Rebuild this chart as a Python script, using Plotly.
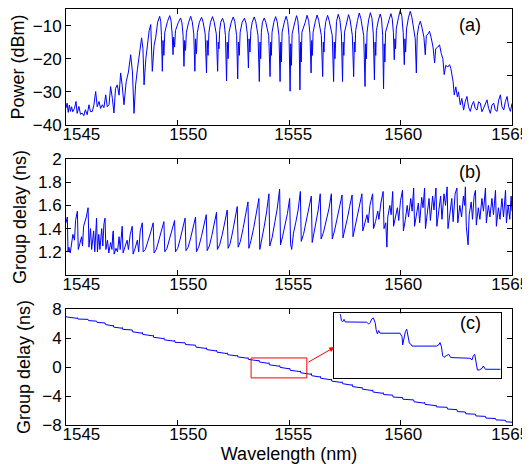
import plotly.graph_objects as go

# ---- (a) optical power spectrum ----
wl_a = [
    1545.00, 1545.05, 1545.10, 1545.15, 1545.20, 1545.25, 1545.30, 1545.38,
    1545.45, 1545.50, 1545.58, 1545.65, 1545.72, 1545.80, 1545.87, 1545.95,
    1546.03, 1546.10, 1546.18, 1546.25, 1546.33, 1546.40, 1546.48, 1546.55,
    1546.63, 1546.70, 1546.78, 1546.85, 1546.93, 1547.00, 1547.08, 1547.15,
    1547.22, 1547.30, 1547.38, 1547.45, 1547.52, 1547.60, 1547.70, 1547.80,
    1547.90, 1547.98, 1548.05, 1548.12, 1548.20, 1548.30, 1548.39, 1548.45,
    1548.50, 1548.58, 1548.65, 1548.73, 1548.80, 1548.87, 1548.95, 1549.02,
    1549.11,
    1549.20, 1549.25, 1549.28, 1549.32, 1549.35, 1549.39, 1549.43, 1549.55,
    1549.65, 1549.71, 1549.76, 1549.80, 1549.83, 1549.87, 1549.91, 1550.04,
    1550.14, 1550.20, 1550.25, 1550.29, 1550.32, 1550.36, 1550.40, 1550.50,
    1550.59, 1550.66, 1550.73, 1550.78, 1550.81, 1550.85, 1550.89, 1550.98,
    1551.08, 1551.15, 1551.24, 1551.30, 1551.33, 1551.37, 1551.41, 1551.48,
    1551.57, 1551.64, 1551.74, 1551.80, 1551.83, 1551.86, 1551.89, 1551.94,
    1552.02, 1552.09, 1552.15, 1552.20, 1552.23, 1552.27, 1552.31, 1552.41,
    1552.50, 1552.57, 1552.65, 1552.70, 1552.73, 1552.77, 1552.81, 1552.90,
    1553.00, 1553.07, 1553.13, 1553.18, 1553.21, 1553.25, 1553.29, 1553.35,
    1553.44, 1553.51, 1553.61, 1553.67, 1553.70, 1553.73, 1553.76, 1553.81,
    1553.89, 1553.96, 1554.09, 1554.15, 1554.18, 1554.21, 1554.24, 1554.32,
    1554.40, 1554.47, 1554.55, 1554.60, 1554.63, 1554.66, 1554.69, 1554.79,
    1554.87, 1554.94, 1555.00, 1555.05, 1555.08, 1555.11, 1555.14, 1555.26,
    1555.34, 1555.40, 1555.45, 1555.49, 1555.52, 1555.55, 1555.58, 1555.73,
    1555.81, 1555.88, 1555.94, 1555.99, 1556.02, 1556.05, 1556.08, 1556.18,
    1556.26, 1556.33, 1556.45, 1556.51, 1556.54, 1556.57, 1556.60, 1556.65,
    1556.73, 1556.80, 1556.94, 1557.00, 1557.03, 1557.06, 1557.09, 1557.13,
    1557.21, 1557.28, 1557.35, 1557.40, 1557.43, 1557.46, 1557.49, 1557.59,
    1557.67, 1557.74, 1557.84, 1557.90, 1557.93, 1557.96, 1557.99, 1558.07,
    1558.15, 1558.22, 1558.35, 1558.41, 1558.44, 1558.47, 1558.50, 1558.57,
    1558.65, 1558.72, 1558.78, 1558.83, 1558.86, 1558.89, 1558.92, 1559.01,
    1559.09, 1559.15, 1559.20, 1559.24, 1559.27, 1559.30, 1559.33, 1559.49,
    1559.57, 1559.63, 1559.68, 1559.72, 1559.75, 1559.78, 1559.81, 1559.91,
    1559.99, 1560.06, 1560.12, 1560.17, 1560.20, 1560.23, 1560.27, 1560.36,
    1560.44, 1560.51, 1560.60, 1560.66, 1560.71, 1560.75, 1560.82, 1560.89,
    1560.96, 1561.05, 1561.11, 1561.16, 1561.24, 1561.30, 1561.37, 1561.46,
    1561.53, 1561.58, 1561.67, 1561.75, 1561.83, 1561.90, 1561.96, 1562.03,
    1562.12, 1562.20, 1562.26, 1562.31, 1562.36, 1562.41, 1562.48, 1562.55,
    1562.60, 1562.68, 1562.75, 1562.83, 1562.90, 1562.98, 1563.05, 1563.13,
    1563.20, 1563.28, 1563.35, 1563.43, 1563.50, 1563.58, 1563.65, 1563.73,
    1563.80, 1563.88, 1563.95, 1564.03, 1564.10, 1564.18, 1564.25, 1564.33,
    1564.40, 1564.48, 1564.55, 1564.63, 1564.70, 1564.78, 1564.85, 1564.93,
    1565.00,
]
power_a = [
    -34.9, -33.4, -36.2, -34.0, -35.9, -34.5, -36.0, -35.0,
    -32.9, -36.5, -34.4, -36.8, -36.4, -37.2, -35.4, -36.9,
    -33.9, -36.0, -35.9, -34.0, -29.9, -34.5, -32.9, -35.0,
    -33.9, -34.8, -30.9, -34.5, -33.9, -28.4, -32.0, -36.4,
    -29.0, -27.9, -31.0, -24.3, -28.0, -33.9, -26.9, -24.0,
    -18.8, -24.0, -36.5, -28.0, -23.3, -18.0, -13.7, -17.0,
    -27.9, -20.0, -15.8, -11.5, -9.7, -23.8, -16.0, -13.7,
    -9.0,
    -7.2, -8.8, -13.0, -23.8, -14.5, -19.0, -12.0, -8.8,
    -7.0, -8.5, -12.5, -18.8, -13.5, -16.5, -11.5, -9.0,
    -7.7, -9.2, -13.0, -22.3, -14.5, -17.5, -12.0, -9.0,
    -7.2, -8.8, -12.5, -23.8, -14.0, -18.5, -12.0, -9.0,
    -7.5, -9.0, -12.5, -24.3, -14.5, -19.0, -12.0, -9.0,
    -7.3, -8.8, -12.5, -23.8, -15.0, -17.0, -11.5, -9.0,
    -7.8, -9.2, -13.0, -26.7, -15.0, -20.0, -12.0, -9.0,
    -7.4, -8.8, -13.0, -26.1, -15.0, -19.0, -12.0, -9.0,
    -7.8, -9.2, -12.5, -22.8, -14.0, -18.0, -11.5, -9.0,
    -7.4, -8.8, -13.0, -26.9, -15.0, -20.0, -12.0, -9.0,
    -7.7, -9.0, -13.0, -25.4, -15.0, -19.0, -12.0, -9.0,
    -7.3, -8.8, -13.0, -26.9, -15.0, -21.0, -12.0, -9.0,
    -7.2, -8.8, -13.0, -29.8, -15.5, -22.0, -12.5, -9.0,
    -7.0, -8.6, -13.0, -29.4, -15.0, -21.0, -12.0, -9.0,
    -6.9, -8.5, -12.5, -24.3, -14.5, -19.0, -12.0, -8.8,
    -6.8, -8.4, -13.0, -25.4, -15.0, -18.0, -11.5, -8.8,
    -6.9, -8.5, -13.0, -26.9, -15.0, -20.0, -11.5, -8.8,
    -6.6, -8.2, -12.5, -26.9, -15.0, -19.0, -12.0, -8.6,
    -6.7, -8.3, -13.0, -25.4, -15.0, -18.0, -11.5, -8.5,
    -6.2, -7.8, -13.0, -28.4, -15.5, -20.0, -12.0, -8.3,
    -6.1, -7.8, -12.5, -26.4, -15.0, -19.0, -11.5, -8.3,
    -6.5, -8.0, -13.0, -29.1, -15.5, -21.0, -12.0, -8.2,
    -6.4, -8.0, -12.0, -20.3, -14.0, -17.0, -11.0, -7.5,
    -5.4, -7.2, -12.0, -21.8, -14.0, -18.0, -11.0, -7.5,
    -5.7, -7.5, -11.5, -14.0, -24.3, -13.0, -10.0, -8.7,
    -10.5, -13.5, -18.8, -13.0, -12.5, -11.7, -13.5, -16.5,
    -21.3, -17.0, -16.5, -15.8, -18.5, -20.0, -24.8, -22.0,
    -22.5, -21.8, -23.0, -25.2, -27.0, -30.9, -28.5, -31.5,
    -30.0, -33.9, -32.0, -35.5, -33.0, -31.4, -34.5, -35.9,
    -34.0, -32.9, -35.0, -35.5, -33.0, -33.4, -36.0, -34.9,
    -33.5, -32.4, -35.0, -36.5, -34.0, -33.4, -35.5, -35.9,
    -32.5, -30.9, -34.5, -35.5, -33.0, -31.4, -34.5, -35.9,
    -33.5,
]

# ---- (b) group delay ripple ----
wl_b = [
    1545.00, 1545.03, 1545.06,
    1545.09, 1545.13, 1545.19, 1545.31, 1545.38, 1545.43, 1545.51,
    1545.55, 1545.62, 1545.70, 1545.74, 1545.79, 1545.91, 1545.99,
    1546.03, 1546.10, 1546.15, 1546.24, 1546.29, 1546.33, 1546.37,
    1546.41, 1546.47, 1546.52, 1546.60, 1546.65, 1546.70, 1546.75,
    1546.79, 1546.86, 1546.92, 1547.00, 1547.06, 1547.10, 1547.12,
    1547.16, 1547.24, 1547.31, 1547.38, 1547.43, 1547.48, 1547.52,
    1547.56, 1547.64, 1547.74, 1547.80, 1547.88, 1547.97,
    1548.01, 1548.10, 1548.20, 1548.26, 1548.33, 1548.42,
    1548.46, 1548.56, 1548.68, 1548.80, 1548.91,
    1548.95, 1549.05, 1549.16, 1549.28, 1549.39,
    1549.43, 1549.53, 1549.64, 1549.76, 1549.87,
    1549.91, 1550.01, 1550.12, 1550.23, 1550.34,
    1550.38, 1550.48, 1550.59, 1550.70, 1550.81,
    1550.85, 1550.95, 1551.07, 1551.18, 1551.29,
    1551.33, 1551.43, 1551.54, 1551.65, 1551.75,
    1551.79, 1551.89, 1552.01, 1552.12, 1552.23,
    1552.27, 1552.36, 1552.47, 1552.58, 1552.68,
    1552.72, 1552.82, 1552.94, 1553.05, 1553.16,
    1553.20, 1553.30, 1553.42, 1553.54, 1553.65,
    1553.69, 1553.78, 1553.89, 1554.00, 1554.10,
    1554.14, 1554.24, 1554.36, 1554.47, 1554.58,
    1554.62, 1554.71, 1554.82, 1554.93, 1555.03,
    1555.07, 1555.12, 1555.20, 1555.30, 1555.41, 1555.51,
    1555.55, 1555.65, 1555.76, 1555.88, 1556.00,
    1556.04, 1556.12, 1556.22, 1556.31, 1556.40,
    1556.44, 1556.55, 1556.67, 1556.79, 1556.90,
    1556.94, 1557.04, 1557.16, 1557.27, 1557.38,
    1557.42, 1557.51, 1557.62, 1557.72, 1557.83,
    1557.87, 1557.95, 1558.06, 1558.16, 1558.27,
    1558.31, 1558.40, 1558.50, 1558.55, 1558.63, 1558.75,
    1558.79, 1558.88, 1558.98, 1559.03, 1559.12, 1559.22,
    1559.26, 1559.34, 1559.39, 1559.43, 1559.52, 1559.58, 1559.65,
    1559.69, 1559.78, 1559.86, 1559.92, 1560.00, 1560.09,
    1560.13, 1560.22, 1560.30, 1560.36, 1560.46, 1560.52, 1560.59,
    1560.63, 1560.72, 1560.80, 1560.86, 1560.95, 1561.01, 1561.08,
    1561.12, 1561.21, 1561.28, 1561.34, 1561.44, 1561.50, 1561.59,
    1561.63, 1561.72, 1561.80, 1561.86, 1561.95, 1562.02, 1562.09,
    1562.13, 1562.22, 1562.30, 1562.36, 1562.45, 1562.53,
    1562.57, 1562.66, 1562.74, 1562.82, 1562.87, 1562.91,
    1562.95, 1563.03, 1563.08, 1563.17, 1563.23, 1563.30, 1563.36,
    1563.40, 1563.49, 1563.56, 1563.65, 1563.72, 1563.81,
    1563.85, 1563.94, 1564.01, 1564.10, 1564.17, 1564.26,
    1564.30, 1564.39, 1564.46, 1564.55, 1564.62, 1564.71,
    1564.75, 1564.83, 1564.90, 1564.96, 1565.00,
]
delay_b = [
    1.45, 1.47, 1.50,
    1.20, 1.24, 1.19, 1.35, 1.30, 1.47, 1.55,
    1.22, 1.27, 1.33, 1.25, 1.42, 1.50, 1.58,
    1.24, 1.40, 1.22, 1.38, 1.20, 1.44, 1.49,
    1.20, 1.35, 1.22, 1.40, 1.25, 1.44, 1.49,
    1.22, 1.30, 1.19, 1.28, 1.22, 1.36, 1.38,
    1.18, 1.23, 1.20, 1.33, 1.22, 1.39, 1.42,
    1.19, 1.24, 1.30, 1.22, 1.35, 1.42,
    1.18, 1.23, 1.30, 1.20, 1.38, 1.45,
    1.20, 1.22, 1.29, 1.37, 1.45,
    1.19, 1.22, 1.30, 1.38, 1.46,
    1.20, 1.23, 1.31, 1.39, 1.47,
    1.20, 1.23, 1.31, 1.40, 1.49,
    1.21, 1.24, 1.32, 1.41, 1.50,
    1.20, 1.24, 1.33, 1.42, 1.52,
    1.21, 1.25, 1.34, 1.44, 1.54,
    1.22, 1.26, 1.35, 1.45, 1.56,
    1.23, 1.27, 1.37, 1.47, 1.59,
    1.24, 1.29, 1.40, 1.50, 1.63,
    1.23, 1.30, 1.41, 1.53, 1.66,
    1.22, 1.30, 1.42, 1.55, 1.70,
    1.25, 1.32, 1.45, 1.57, 1.74,
    1.26, 1.33, 1.43, 1.53, 1.66,
    1.27, 1.22, 1.36, 1.45, 1.56, 1.72,
    1.29, 1.35, 1.46, 1.55, 1.68,
    1.28, 1.36, 1.46, 1.56, 1.70,
    1.31, 1.37, 1.47, 1.57, 1.70,
    1.31, 1.38, 1.48, 1.58, 1.69,
    1.32, 1.39, 1.49, 1.59, 1.69,
    1.33, 1.40, 1.50, 1.60, 1.70,
    1.38, 1.44, 1.52, 1.45, 1.60, 1.70,
    1.40, 1.46, 1.55, 1.48, 1.62, 1.72,
    1.40, 1.45, 1.24, 1.50, 1.60, 1.52, 1.72,
    1.42, 1.50, 1.58, 1.47, 1.64, 1.73,
    1.38, 1.48, 1.60, 1.50, 1.66, 1.55, 1.75,
    1.42, 1.52, 1.62, 1.45, 1.67, 1.58, 1.75,
    1.40, 1.55, 1.66, 1.47, 1.68, 1.56, 1.75,
    1.42, 1.58, 1.68, 1.48, 1.70, 1.60, 1.76,
    1.40, 1.55, 1.66, 1.46, 1.70, 1.75,
    1.45, 1.60, 1.50, 1.68, 1.60, 1.76,
    1.42, 1.26, 1.52, 1.63, 1.48, 1.68, 1.73,
    1.43, 1.58, 1.48, 1.66, 1.55, 1.75,
    1.45, 1.60, 1.50, 1.66, 1.52, 1.73,
    1.42, 1.58, 1.48, 1.66, 1.50, 1.73,
    1.45, 1.60, 1.48, 1.68, 1.55,
]

# ---- (c) group delay of the chirped grating ----
wl_c = [
    1545.00, 1545.08,
    1545.49, 1545.51, 1545.53, 1545.97, 1545.99, 1546.01,
    1546.35, 1546.37, 1546.39, 1546.73, 1546.75, 1546.77,
    1547.10, 1547.12, 1547.14, 1547.50, 1547.52, 1547.54,
    1547.95, 1547.97, 1547.99, 1548.40, 1548.42, 1548.44,
    1548.89, 1548.91, 1548.93, 1549.37, 1549.39, 1549.41,
    1549.85, 1549.87, 1549.89, 1550.32, 1550.34, 1550.36,
    1550.79, 1550.81, 1550.83, 1551.27, 1551.29, 1551.31,
    1551.73, 1551.75, 1551.77, 1552.21, 1552.23, 1552.25,
    1552.66, 1552.68, 1552.70, 1553.14, 1553.16, 1553.18,
    1553.63, 1553.65, 1553.67, 1554.08, 1554.10, 1554.12,
    1554.56, 1554.58, 1554.60, 1555.01, 1555.03, 1555.05,
    1555.49, 1555.51, 1555.53, 1555.98, 1556.00, 1556.02,
    1556.38, 1556.40, 1556.42, 1556.88, 1556.90, 1556.92,
    1557.36, 1557.38, 1557.40, 1557.81, 1557.83, 1557.85,
    1558.25, 1558.27, 1558.29, 1558.73, 1558.75, 1558.77,
    1559.20, 1559.22, 1559.24, 1559.63, 1559.65, 1559.67,
    1560.07, 1560.09, 1560.11, 1560.57, 1560.59, 1560.61,
    1561.06, 1561.08, 1561.10, 1561.57, 1561.59, 1561.61,
    1562.07, 1562.09, 1562.11, 1562.51, 1562.53, 1562.55,
    1562.89, 1562.91, 1562.93, 1563.34, 1563.36, 1563.38,
    1563.79, 1563.81, 1563.83, 1564.24, 1564.26, 1564.28,
    1564.69, 1564.71, 1564.73, 1565.00,
]
delay_c = [
    6.95, 6.88,
    6.72, 6.80, 6.62, 6.48, 6.57, 6.40,
    6.25, 6.33, 6.15, 5.99, 6.08, 5.85,
    5.68, 5.78, 5.50, 5.35, 5.45, 5.20,
    5.02, 5.11, 4.85, 4.67, 4.77, 4.50,
    4.30, 4.40, 4.10, 3.92, 4.02, 3.75,
    3.57, 3.66, 3.40, 3.24, 3.33, 3.10,
    2.92, 3.01, 2.75, 2.56, 2.66, 2.40,
    2.22, 2.31, 2.05, 1.86, 1.96, 1.70,
    1.54, 1.63, 1.40, 1.21, 1.31, 1.05,
    0.86, 0.96, 0.70, 0.50, 0.60, 0.30,
    0.11, 0.21, -0.05, -0.25, -0.15, -0.45,
    -0.63, -0.54, -0.80, -1.00, -0.90, -1.20,
    -1.37, -1.28, -1.55, -1.75, -1.65, -1.95,
    -2.13, -2.03, -2.30, -2.50, -2.40, -2.70,
    -2.87, -2.78, -3.05, -3.25, -3.15, -3.45,
    -3.63, -3.53, -3.80, -3.97, -3.88, -4.15,
    -4.30, -4.21, -4.45, -4.63, -4.54, -4.80,
    -4.98, -4.88, -5.15, -5.33, -5.23, -5.50,
    -5.65, -5.56, -5.80, -5.97, -5.88, -6.15,
    -6.30, -6.21, -6.45, -6.60, -6.51, -6.75,
    -6.90, -6.81, -7.05, -7.18, -7.10, -7.30,
    -7.43, -7.35, -7.55, -7.62,
]

# inset: zoom of the boxed region
wl_zoom = [
    1553.39, 1553.40, 1553.41, 1553.43, 1553.45, 1553.47, 1553.79, 1553.82,
    1553.84, 1553.87, 1553.89, 1553.92, 1553.93, 1553.95, 1553.97, 1553.99,
    1554.29, 1554.32, 1554.33, 1554.35, 1554.37, 1554.39, 1554.41, 1554.43,
    1554.45, 1554.47, 1554.84, 1554.87, 1554.89, 1554.91, 1554.93, 1554.95,
    1554.98, 1555.02, 1555.05, 1555.34, 1555.37, 1555.39, 1555.41, 1555.43,
    1555.45, 1555.48, 1555.52, 1555.54, 1555.57, 1555.80,
]
delay_zoom = [
    1.22, 1.14, 0.94, 0.89, 0.99, 0.88, 0.87, 0.79,
    0.85, 1.02, 1.05, 0.82, 0.57, 0.37, 0.51, 0.40,
    0.40, 0.25, -0.10, 0.18, 0.47, 0.57, 0.32, -0.03,
    -0.06, -0.15, -0.15, -0.10, 0.00, -0.17, -0.57, -0.63,
    -0.57, -0.50, -0.64, -0.67, -0.74, -0.55, -0.50, -0.89,
    -1.17, -1.17, -1.10, -1.00, -1.14, -1.14,
]

x_ticks = [1545, 1550, 1555, 1560, 1565]
x_labels = ['1545', '1550', '1555', '1560', '1565']
# in the original the wavelength labels sit a little right of their ticks
x_label_pos = [1545.69, 1550.48, 1555.19, 1560.12, 1564.92]
blue = 'rgb(0,0,255)'
font_name = 'Liberation Sans, Arial, sans-serif'

fig = go.Figure()
fig.add_trace(go.Scatter(x=wl_a, y=power_a, mode='lines',
                         line=dict(color=blue, width=1), xaxis='x', yaxis='y'))
fig.add_trace(go.Scatter(x=wl_b, y=delay_b, mode='lines',
                         line=dict(color=blue, width=1), xaxis='x2', yaxis='y2'))
fig.add_trace(go.Scatter(x=wl_c, y=delay_c, mode='lines',
                         line=dict(color=blue, width=1), xaxis='x3', yaxis='y3'))
fig.add_trace(go.Scatter(x=wl_zoom, y=delay_zoom, mode='lines',
                         line=dict(color=blue, width=1), xaxis='x4', yaxis='y4'))
# empty traces so the helper axes (right ticks of (a), shifted labels) get drawn
for xa, ya in [('x', 'y5'), ('x5', 'y'), ('x6', 'y2'), ('x7', 'y3')]:
    fig.add_trace(go.Scatter(x=[None], y=[None], xaxis=xa, yaxis=ya,
                             hoverinfo='skip'))


def frame(**kw):
    d = dict(showline=True, linecolor='black', linewidth=1, mirror='ticks',
             ticks='inside', ticklen=5, tickcolor='black', showgrid=False,
             zeroline=False, automargin=False, ticklabeloverflow='allow',
             tickfont=dict(size=17, color='black'))
    d.update(kw)
    return d


def label_axis(over, anchor, **kw):
    d = dict(overlaying=over, anchor=anchor, side='bottom', range=[1545, 1565],
             tickvals=x_label_pos, ticktext=x_labels, ticks='inside', ticklen=5,
             tickcolor='rgba(0,0,0,0)', showline=False, showgrid=False,
             zeroline=False, automargin=False, ticklabeloverflow='allow',
             ticklabelstandoff=-3, tickfont=dict(size=17, color='black'))
    d.update(kw)
    return d


title_font = dict(size=18, color='black')

# the page body adds an 8 px offset, so margins are shifted by 8 px
fig.update_layout(
    width=530, height=464,
    margin=dict(l=58, r=26, t=1, b=47),
    paper_bgcolor='white', plot_bgcolor='white',
    font=dict(family=font_name, color='black'),
    showlegend=False,
    xaxis=frame(domain=[0, 1], range=[1545, 1565], tickvals=x_ticks,
                showticklabels=False, anchor='y'),
    yaxis=frame(domain=[0.7212, 1.0], range=[-40, -5], mirror=True,
                tickvals=[-40, -30, -20, -10], anchor='x',
                title=dict(text='Power (dBm)', font=title_font, standoff=6)),
    yaxis5=dict(overlaying='y', side='right', range=[-40, -5], anchor='x',
                tickvals=[-25, -15], ticks='inside', ticklen=5, tickcolor='black',
                showticklabels=False, showline=False, showgrid=False,
                zeroline=False, automargin=False),
    xaxis5=label_axis('x', 'y'),
    xaxis2=frame(domain=[0, 1], range=[1545, 1565], tickvals=x_ticks,
                 showticklabels=False, anchor='y2'),
    yaxis2=frame(domain=[0.3606, 0.6394], range=[1, 2], anchor='x2',
                 tickvals=[1.2, 1.4, 1.6, 1.8, 2.0],
                 ticktext=['1.2', '1.4', '1.6', '1.8', '2'],
                 title=dict(text='Group delay (ns)', font=title_font, standoff=6)),
    xaxis6=label_axis('x2', 'y2'),
    xaxis3=frame(domain=[0, 1], range=[1545, 1565], tickvals=x_ticks,
                 showticklabels=False, anchor='y3'),
    yaxis3=frame(domain=[0, 0.2788], range=[-8, 8], anchor='x3',
                 tickvals=[-8, -4, 0, 4, 8],
                 title=dict(text='Group delay (ns)', font=title_font, standoff=6)),
    xaxis7=label_axis('x3', 'y3',
                      title=dict(text='Wavelength (nm)', font=title_font,
                                 standoff=0)),
    xaxis4=dict(domain=[0.601, 0.9747], range=[1553.3, 1555.8], anchor='y4',
                showline=True, linecolor='black', linewidth=1, mirror=True,
                showticklabels=False, ticks='', showgrid=False, zeroline=False),
    yaxis4=dict(domain=[0.1137, 0.2685], range=[-1.5, 1.25], anchor='x4',
                showline=True, linecolor='black', linewidth=1, mirror=True,
                showticklabels=False, ticks='', showgrid=False, zeroline=False),
)

# red box marking the zoomed region, and the arrow to the inset
fig.add_shape(type='rect', xref='x3', yref='y3', x0=1553.3, x1=1555.8,
              y0=-1.5, y1=1.25, line=dict(color='red', width=1))
fig.add_annotation(x=1557.03, y=2.72, ax=1555.8, ay=0.55, xref='x3', yref='y3',
                   axref='x3', ayref='y3', text='', showarrow=True,
                   arrowhead=2, arrowsize=1, arrowwidth=1, arrowcolor='red')

for txt, xr, yr, yv in [('(a)', 'x', 'y', -9.7), ('(b)', 'x2', 'y2', 1.89),
                        ('(c)', 'x3', 'y3', 6.07)]:
    fig.add_annotation(x=1563.13, y=yv, xref=xr, yref=yr, text=txt,
                       showarrow=False, font=dict(size=18, color='black'))

fig.write_html("out.html")
